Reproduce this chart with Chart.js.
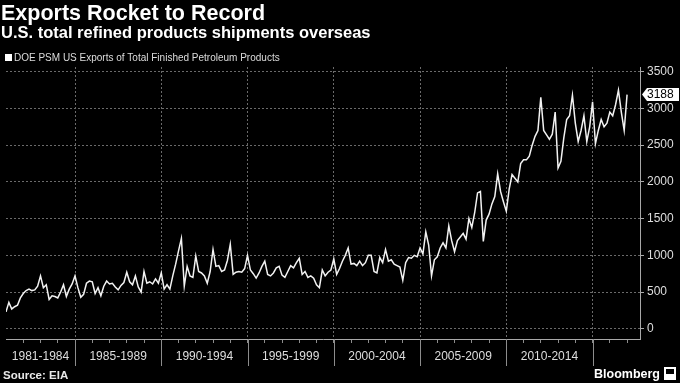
<!DOCTYPE html>
<html>
<head>
<meta charset="utf-8">
<script src="https://cdn.jsdelivr.net/npm/chart.js@4.4.1/dist/chart.umd.min.js"></script>
<style>
    html, body { margin: 0; padding: 0; background: #000; }
</style>
</head>
<body>
<canvas id="chart" width="680" height="383"></canvas>
<script>
//colours
var lineColor = '#f2f2f2';
var gridColor = '#6a6a6a';
var axisColor = '#a8a8a8';
var tickTextColor = '#dedede';

var titleText = 'Exports Rocket to Record';
var subtitleText = 'U.S. total refined products shipments overseas';
var seriesName = 'DOE PSM US Exports of Total Finished Petroleum Products';
var sourceText = 'Source: EIA';

// x axis periods
var periodLabels = ['1981-1984', '1985-1989', '1990-1994', '1995-1999', '2000-2004', '2005-2009', '2010-2014'];
var periodStarts = [1981, 1985, 1990, 1995, 2000, 2005, 2010, 2015];
var yTicks = [0, 500, 1000, 1500, 2000, 2500, 3000, 3500];

// thousand barrels a day, one reading every two months from the start of each period
var exports1981 = [230, 360, 270, 300, 320, 420, 480, 520, 540, 520, 530, 580, 720, 560, 600, 400, 450, 440, 420, 500, 600, 440, 540, 610];
var exports1985 = [720, 560, 430, 470, 620, 650, 640, 480, 560, 450, 580, 650, 610, 620, 570, 530, 590, 630, 770, 640, 600, 720, 570, 500, 780, 620, 640, 610, 680, 620];
var exports1990 = [760, 540, 600, 540, 720, 880, 1060, 1230, 580, 850, 720, 700, 990, 780, 760, 720, 620, 780, 1080, 850, 860, 780, 800, 930, 1150, 740, 770, 780, 770, 820];
var exports1995 = [1000, 800, 750, 690, 760, 850, 920, 740, 720, 760, 830, 850, 730, 700, 780, 860, 830, 900, 960, 740, 780, 700, 720, 690, 600, 560, 800, 720, 770, 800];
var exports2000 = [950, 740, 820, 920, 1000, 1100, 880, 890, 860, 920, 860, 900, 1000, 1000, 780, 760, 970, 900, 1080, 920, 940, 880, 860, 840, 660, 900, 970, 960, 1000, 980];
var exports2005 = [1100, 1020, 1320, 1140, 720, 940, 980, 1100, 1170, 1100, 1400, 1200, 1050, 1200, 1250, 1300, 1220, 1500, 1380, 1580, 1850, 1870, 1190, 1480, 1560, 1700, 1800, 2110, 1870, 1730];
var exports2010 = [1600, 1900, 2100, 2050, 2000, 2250, 2300, 2300, 2350, 2500, 2620, 2700, 3150, 2700, 2640, 2580, 2650, 2950, 2190, 2280, 2600, 2850, 2900, 3180, 2800, 2550, 2700, 2900, 2550, 2750];
var exports2015 = [3090, 2520, 2700, 2850, 2750, 2800, 2950, 2900, 3050, 3250, 2950, 2700, 3188];

var blocks = [exports1981, exports1985, exports1990, exports1995, exports2000, exports2005, exports2010, exports2015];
var points = [];
blocks.forEach(function (block, b) {
    block.forEach(function (value, i) {
        points.push({x: periodStarts[b] + i / 6, y: value});
    });
});
var lastValue = exports2015[exports2015.length - 1];

// label sits in the middle of its period, small tick every year
var periodCenters = [];
for (var p = 0; p < periodLabels.length; p++) {
    periodCenters.push((periodStarts[p] + periodStarts[p + 1]) / 2);
}
var xTickValues = [];
for (var yr = 1981; yr <= 2017; yr++) {
    xTickValues.push(yr);
}
periodCenters.forEach(function (c) {
    if (xTickValues.indexOf(c) < 0) xTickValues.push(c);
});
xTickValues.sort(function (a, b) { return a - b; });

var chrome = {
    id: 'chrome',
    beforeDraw: function (chart) {
        var ctx = chart.ctx;
        ctx.save();
        ctx.fillStyle = '#000';
        ctx.fillRect(0, 0, chart.width, chart.height);
        ctx.restore();
    },
    afterDraw: function (chart) {
        var ctx = chart.ctx;
        var area = chart.chartArea;
        var xScale = chart.scales.x;
        var yScale = chart.scales.y;
        ctx.save();
        ctx.textAlign = 'left';
        ctx.textBaseline = 'alphabetic';

        // headline
        ctx.fillStyle = '#fff';
        ctx.font = 'bold 21.5px "Liberation Sans"';
        ctx.fillText(titleText, 1, 20);
        ctx.font = 'bold 16.5px "Liberation Sans"';
        ctx.fillText(subtitleText, 1, 38);

        // legend
        ctx.fillRect(5, 54, 7, 7);
        ctx.fillStyle = '#dcdcdc';
        ctx.font = '10px "Liberation Sans"';
        ctx.fillText(chart.data.datasets[0].label, 14, 61);

        // period separators below the axis
        ctx.strokeStyle = '#8c8c8c';
        ctx.lineWidth = 1;
        periodStarts.slice(1).forEach(function (year) {
            var x = Math.round(xScale.getPixelForValue(year)) + 0.5;
            ctx.beginPath();
            ctx.moveTo(x, area.bottom);
            ctx.lineTo(x, area.bottom + 27);
            ctx.stroke();
        });

        // last value tag
        var ty = yScale.getPixelForValue(lastValue);
        ctx.fillStyle = '#fff';
        ctx.beginPath();
        ctx.moveTo(area.right + 2, ty);
        ctx.lineTo(area.right + 7, ty - 6.5);
        ctx.lineTo(679, ty - 6.5);
        ctx.lineTo(679, ty + 6.5);
        ctx.lineTo(area.right + 7, ty + 6.5);
        ctx.closePath();
        ctx.fill();
        ctx.fillStyle = '#000';
        ctx.font = '12px "Liberation Sans"';
        ctx.textBaseline = 'middle';
        ctx.fillText(String(lastValue), area.right + 7, ty + 0.5);

        // footer
        ctx.textBaseline = 'alphabetic';
        ctx.fillStyle = '#e8e8e8';
        ctx.font = 'bold 11.5px "Liberation Sans"';
        ctx.fillText(sourceText, 3, 379);
        ctx.fillStyle = '#fff';
        ctx.font = 'bold 12.5px "Liberation Sans"';
        ctx.fillText('Bloomberg', 594, 378);
        ctx.fillRect(664, 367, 12, 13);
        ctx.fillStyle = '#000';
        ctx.fillRect(666, 369, 8, 5);
        ctx.restore();
    }
};

new Chart(document.getElementById('chart').getContext('2d'), {
    type: 'line',
    data: {
        datasets: [{
            label: seriesName,
            data: points,
            borderColor: lineColor,
            borderWidth: 1.5,
            pointRadius: 0,
            tension: 0,
            fill: false
        }]
    },
    options: {
        responsive: false,
        animation: false,
        layout: {padding: {top: 67, bottom: 16, left: 0, right: 0}},
        plugins: {
            legend: {display: false},
            title: {display: false},
            tooltip: {enabled: false}
        },
        scales: {
            x: {
                type: 'linear',
                min: 1981,
                max: 2017.75,
                afterBuildTicks: function (scale) {
                    scale.ticks = xTickValues.map(function (v) { return {value: v}; });
                },
                afterFit: function (scale) { scale.height = 28; },
                ticks: {
                    autoSkip: false,
                    maxRotation: 0,
                    padding: 6,
                    color: tickTextColor,
                    font: {family: 'Liberation Sans', size: 12},
                    callback: function (value) {
                        var i = periodCenters.indexOf(value);
                        return i >= 0 ? periodLabels[i] : '';
                    }
                },
                grid: {
                    color: function (c) {
                        if (!c.tick) return 'rgba(0,0,0,0)';
                        var v = c.tick.value;
                        return (v % 5 === 0 && v > 1981) ? gridColor : 'rgba(0,0,0,0)';
                    },
                    tickColor: function (c) {
                        if (!c.tick) return axisColor;
                        return Number.isInteger(c.tick.value) && c.tick.value > 1981 ? '#8c8c8c' : 'rgba(0,0,0,0)';
                    },
                    tickLength: 4
                },
                border: {color: axisColor, dash: [2, 2]}
            },
            y: {
                position: 'right',
                min: -139,
                max: 3564,
                afterBuildTicks: function (scale) {
                    scale.ticks = yTicks.map(function (v) { return {value: v}; });
                },
                afterFit: function (scale) { scale.width = 40; },
                ticks: {
                    padding: 3,
                    color: tickTextColor,
                    font: {family: 'Liberation Sans', size: 12},
                    callback: function (value) { return String(value); }
                },
                grid: {
                    color: gridColor,
                    tickColor: axisColor,
                    tickLength: 4
                },
                border: {color: axisColor, dash: [2, 2]}
            }
        }
    },
    plugins: [chrome]
});
</script>
</body>
</html>
